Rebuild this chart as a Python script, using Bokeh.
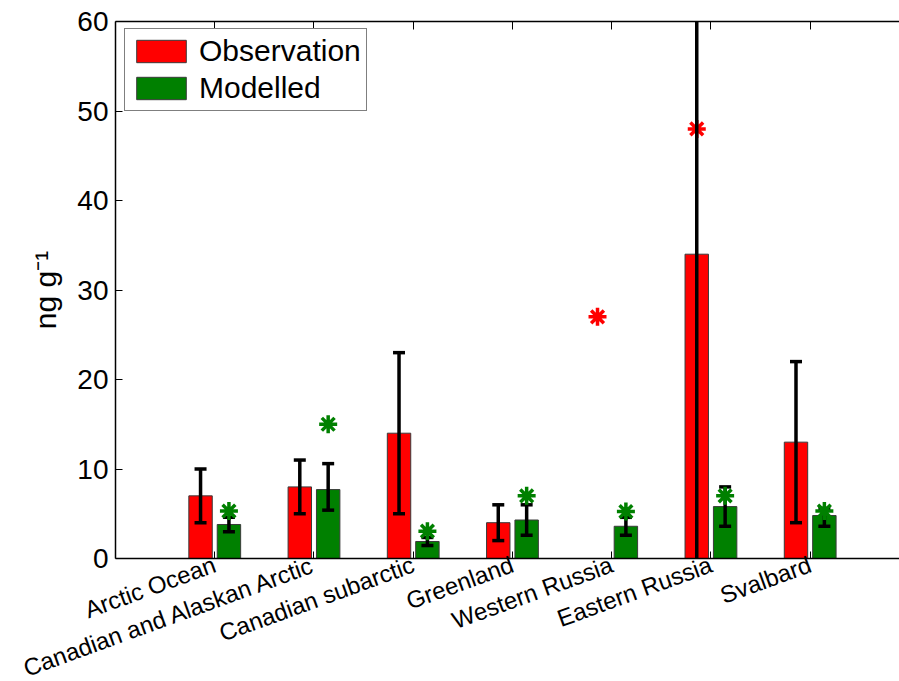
import math
from bokeh.plotting import figure
from bokeh.models import (ColumnDataSource, Range1d, FixedTicker, LinearAxis,
                          Legend, LegendItem)
from bokeh.embed import file_html
from bokeh.resources import INLINE

categories = ["Arctic Ocean", "Canadian and Alaskan Arctic", "Canadian subarctic",
              "Greenland", "Western Russia", "Eastern Russia", "Svalbard"]
obs_mean = [7, 8, 14, 4, None, 34, 13]
obs_low = [4, 5, 5, 2, None, -1, 4]
obs_high = [10, 11, 23, 6, None, 69, 22]
obs_star = [None, None, None, None, 27, 48, None]
mod_mean = [3.8, 7.7, 1.9, 4.3, 3.6, 5.8, 4.8]
mod_low = [3.0, 5.4, 1.45, 2.6, 2.6, 3.6, 3.6]
mod_high = [4.6, 10.6, 2.35, 6.0, 4.6, 8.0, 5.6]
mod_star = [5.3, 15, 3.05, 7, 5.25, 7, 5.3]
y_ticks = [0, 10, 20, 30, 40, 50, 60]

RED = "#FF0000"
GREEN = "#008000"
FONT = "Liberation Sans"
OFF = 0.143
BW = 0.236
W, H = 899, 681
X_END = 7.9
Y_MIN, Y_MAX = 0, 60
# plot-area box in page pixels
PL, PT, PB = 115, 21, 558
pos = list(range(1, len(categories) + 1))

# the frame fills the whole canvas; ranges are extended so the data box lands
# on the plot area, and the axes are pinned to its edges
ppx = (W - PL) / X_END
ppy = (PB - PT) / (Y_MAX - Y_MIN)
x_range = Range1d(-PL / ppx, X_END)
y_range = Range1d(Y_MIN - (H - PB) / ppy, Y_MAX + PT / ppy)


def inside(v):
    return v is not None and Y_MIN <= v <= Y_MAX


def clip(v):
    return min(max(v, Y_MIN), Y_MAX)


def bar_src(xs, ys):
    d = {"x": [], "y": []}
    for x, y in zip(xs, ys):
        if y is not None:
            d["x"].append(x)
            d["y"].append(y)
    return ColumnDataSource(d)


def err_srcs(xs, lo, hi):
    seg = {"x": [], "lo": [], "hi": []}
    caps = {"x": [], "y": []}
    for x, a, b in zip(xs, lo, hi):
        if a is None:
            continue
        seg["x"].append(x)
        seg["lo"].append(clip(a))
        seg["hi"].append(clip(b))
        for v in (a, b):
            if inside(v):
                caps["x"].append(x)
                caps["y"].append(v)
    return ColumnDataSource(seg), ColumnDataSource(caps)


xo = [x - OFF for x in pos]
xm = [x + OFF for x in pos]

p = figure(width=W, height=H, output_backend="svg", toolbar_location=None,
           x_range=x_range, y_range=y_range,
           x_axis_location=None, y_axis_location=None,
           min_border=0, min_border_left=0, min_border_right=0,
           min_border_top=0, min_border_bottom=0)
p.outline_line_color = None
p.xgrid.visible = False
p.ygrid.visible = False
p.background_fill_color = "white"

r_obs = p.vbar(x="x", top="y", width=BW, source=bar_src(xo, obs_mean),
               fill_color=RED, line_color="#3a3a3a", line_width=1)
r_mod = p.vbar(x="x", top="y", width=BW, source=bar_src(xm, mod_mean),
               fill_color=GREEN, line_color="#3a3a3a", line_width=1)

p.scatter(x="x", y="y", source=bar_src(xo, obs_star), marker="asterisk", size=18,
          line_color=RED, line_width=3.5)

for xs, lo, hi in ((xo, obs_low, obs_high), (xm, mod_low, mod_high)):
    seg, caps = err_srcs(xs, lo, hi)
    p.segment(x0="x", y0="lo", x1="x", y1="hi", source=seg, line_color="black",
              line_width=3.5)
    p.scatter(x="x", y="y", source=caps, marker="dash", size=12,
              line_color="black", line_width=3.5)

p.scatter(x="x", y="y", source=bar_src(xm, mod_star), marker="asterisk", size=18,
          line_color=GREEN, line_width=3.5)

# axes pinned to the plot-area edges
yax = LinearAxis(fixed_location=0, bounds=(Y_MIN, Y_MAX),
                 ticker=FixedTicker(ticks=y_ticks),
                 minor_tick_line_color=None, major_tick_in=7, major_tick_out=0,
                 axis_line_width=1.5,
                 major_label_text_font=FONT, major_label_text_font_size="28px",
                 major_label_text_color="black", major_label_standoff=7,
                 axis_label="ng g\u207b\u00b9", axis_label_text_font=FONT,
                 axis_label_text_font_size="30px",
                 axis_label_text_font_style="normal",
                 axis_label_text_color="black", axis_label_standoff=12)
p.add_layout(yax, "left")

xax = LinearAxis(fixed_location=Y_MIN, bounds=(0, X_END),
                 ticker=FixedTicker(ticks=pos),
                 major_label_overrides={x: n for x, n in zip(pos, categories)},
                 major_label_orientation=math.radians(20),
                 minor_tick_line_color=None, major_tick_in=7, major_tick_out=0,
                 axis_line_width=1.5,
                 major_label_text_font=FONT, major_label_text_font_size="24px",
                 major_label_text_color="black", major_label_standoff=5)
p.add_layout(xax, "below")

tax = LinearAxis(fixed_location=Y_MAX, bounds=(0, X_END),
                 ticker=FixedTicker(ticks=pos),
                 minor_tick_line_color=None, major_tick_in=8, major_tick_out=0,
                 axis_line_width=1.5, major_label_text_font_size="0px",
                 major_label_standoff=0,
                 major_label_overrides={i: "" for i in pos})
p.add_layout(tax, "above")

legend = Legend(items=[LegendItem(label="Observation", renderers=[r_obs]),
                       LegendItem(label="Modelled", renderers=[r_mod])],
                location=(124, 570), margin=0, padding=5, spacing=3,
                glyph_width=62, glyph_height=28, label_standoff=7,
                label_text_font=FONT, label_text_font_size="30px",
                label_text_color="black",
                border_line_color="black", border_line_width=1.5,
                background_fill_color="white", background_fill_alpha=1)
p.add_layout(legend)

open("out.html", "w").write(file_html(p, INLINE))
